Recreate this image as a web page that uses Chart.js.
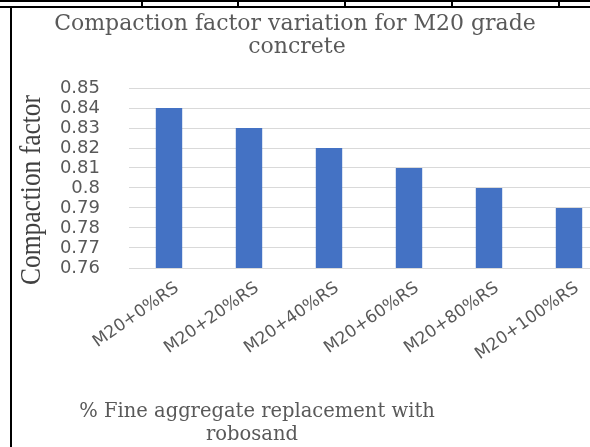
<!DOCTYPE html>
<html>
<head>
<meta charset="utf-8">
<script src="https://cdn.jsdelivr.net/npm/chart.js@4.4.1/dist/chart.umd.min.js"></script>
<style>
  html, body { margin: 0; padding: 0; background: #fff; overflow: hidden; width: 590px; height: 447px; }
  #wrap { position: absolute; left: 0; top: 0; width: 610px; height: 447px; }
  .ln { position: absolute; background: #000; }
</style>
</head>
<body>
<div id="wrap"><canvas id="cf-chart" width="610" height="447"></canvas></div>
<!-- table borders around the figure -->
<div class="ln" style="left:0;top:0;width:590px;height:2px"></div>
<div class="ln" style="left:0;top:6px;width:590px;height:2px"></div>
<div class="ln" style="left:141px;top:0;width:2px;height:7px"></div>
<div class="ln" style="left:237px;top:0;width:2px;height:7px"></div>
<div class="ln" style="left:344px;top:0;width:2px;height:7px"></div>
<div class="ln" style="left:451px;top:0;width:2px;height:7px"></div>
<div class="ln" style="left:558px;top:0;width:2px;height:7px"></div>
<div class="ln" style="left:10px;top:6px;width:2px;height:441px"></div>
<script>
// data
const categories = ['M20+0%RS', 'M20+20%RS', 'M20+40%RS', 'M20+60%RS', 'M20+80%RS', 'M20+100%RS'];
const compactionFactor = [0.84, 0.83, 0.82, 0.81, 0.80, 0.79];
const yMin = 0.76;
const yMax = 0.85;
const yStep = 0.01;

const titleLines = ['Compaction factor variation for M20 grade', 'concrete'];
const xTitleLines = ['% Fine aggregate replacement with', 'robosand'];
const yTitle = 'Compaction factor';

// titles drawn on the canvas
const titlesPlugin = {
  id: 'titles',
  afterDraw(chart) {
    const c = chart.ctx;
    c.save();
    c.fillStyle = '#595959';
    c.textAlign = 'center';
    c.textBaseline = 'middle';
    c.font = '22px "DejaVu Serif"';
    c.fillText(titleLines[0], 295, 24);
    c.fillText(titleLines[1], 297, 47);
    c.font = '19.5px "DejaVu Serif"';
    c.fillText(xTitleLines[0], 257, 412);
    c.fillText(xTitleLines[1], 252, 435);
    // y title, narrow and tall
    c.fillStyle = '#404040';
    c.font = '29px "Liberation Serif"';
    c.translate(32, 190);
    c.rotate(-Math.PI / 2);
    const w = c.measureText(yTitle).width;
    c.scale(190 / w, 1);
    c.fillText(yTitle, 0, 0);
    c.restore();
  }
};

const ctx = document.getElementById('cf-chart');

new Chart(ctx, {
  type: 'bar',
  data: {
    labels: categories,
    datasets: [{
      label: 'Compaction factor',
      data: compactionFactor,
      backgroundColor: '#4472c4',
      barPercentage: 0.33,
      categoryPercentage: 1
    }]
  },
  options: {
    responsive: false,
    animation: false,
    layout: { padding: { top: 88, right: 1, left: 0, bottom: 0 } },
    plugins: {
      legend: { display: false },
      title: { display: false },
      tooltip: { enabled: false }
    },
    scales: {
      x: {
        grid: { display: false },
        border: { display: false },
        ticks: {
          color: '#595959',
          font: { family: 'DejaVu Sans', size: 17 },
          minRotation: 35,
          maxRotation: 35,
          autoSkip: false,
          labelOffset: 8,
          padding: 2
        },
        afterFit(scale) { scale.height = 179; }
      },
      y: {
        min: yMin,
        max: yMax,
        grid: { color: '#d9d9d9', drawTicks: false },
        border: { display: false },
        ticks: {
          stepSize: yStep,
          autoSkip: false,
          color: '#595959',
          font: { family: 'DejaVu Sans', size: 18, lineHeight: 0.9 },
          padding: 29,
          callback: v => String(+v.toFixed(2))
        },
        afterFit(scale) { scale.width = 129; }
      }
    }
  },
  plugins: [titlesPlugin]
});
</script>
</body>
</html>
